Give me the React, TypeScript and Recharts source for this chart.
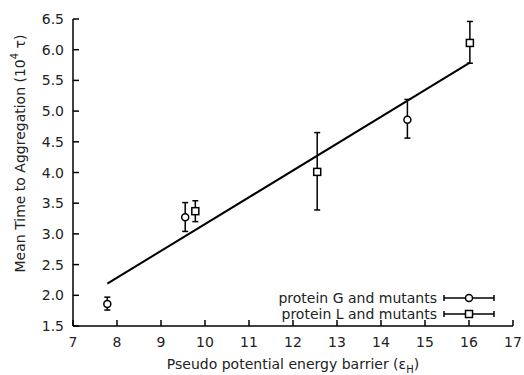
import React from 'react';
import { ComposedChart, Scatter, XAxis, YAxis, ErrorBar, ReferenceLine, Legend } from 'recharts';

const gX = [7.78, 9.55, 14.6];
const gY = [1.86, 3.27, 4.86];
const gLo = [1.76, 3.04, 4.56];
const gHi = [1.97, 3.51, 5.19];

const lX = [9.78, 12.55, 16.02];
const lY = [3.37, 4.01, 6.11];
const lLo = [3.2, 3.39, 5.78];
const lHi = [3.54, 4.65, 6.46];

const fitX = [7.78, 16.02];
const fitY = [2.19, 5.79];

const xTicks = [7, 8, 9, 10, 11, 12, 13, 14, 15, 16, 17];
const yTicks = [1.5, 2.0, 2.5, 3.0, 3.5, 4.0, 4.5, 5.0, 5.5, 6.0, 6.5];

const seriesNames = ['protein G and mutants', 'protein L and mutants'];

const FONT = '"DejaVu Sans", "Liberation Sans", Arial, sans-serif';

const gData = gX.map((x, i) => ({ x, y: gY[i], err: [gY[i] - gLo[i], gHi[i] - gY[i]] }));
const lData = lX.map((x, i) => ({ x, y: lY[i], err: [lY[i] - lLo[i], lHi[i] - lY[i]] }));

const CircleShape = (p: any) => (
  <circle cx={p.cx} cy={p.cy} r={3.5} fill="#fff" stroke="#000" strokeWidth={1.5} />
);
const SquareShape = (p: any) => (
  <rect x={p.cx - 3.5} y={p.cy - 3.5} width={7} height={7} fill="#fff" stroke="#000" strokeWidth={1.5} />
);

const BottomTick = (p: any) => (
  <g>
    <line x1={p.x} y1={p.y} x2={p.x} y2={p.y - 6} stroke="#000" strokeWidth={1.5} />
    <text x={p.x} y={p.y + 21} textAnchor="middle" fontFamily={FONT} fontSize={14} fill="#222">
      {p.payload.value}
    </text>
  </g>
);
const TopTick = (p: any) => (
  <line x1={p.x} y1={p.y} x2={p.x} y2={p.y + 6} stroke="#000" strokeWidth={1.5} />
);
const LeftTick = (p: any) => (
  <g>
    <line x1={p.x} y1={p.y} x2={p.x + 6} y2={p.y} stroke="#000" strokeWidth={1.5} />
    <text x={p.x - 9} y={p.y + 5} textAnchor="end" fontFamily={FONT} fontSize={14} fill="#222">
      {Number(p.payload.value).toFixed(1)}
    </text>
  </g>
);
const RightTick = (p: any) => (
  <line x1={p.x} y1={p.y} x2={p.x - 6} y2={p.y} stroke="#000" strokeWidth={1.5} />
);

const YLabel = (props: any) => {
  const vb = props.viewBox || {};
  const cx = 20;
  const cy = vb.y + vb.height / 2 - 19;
  return (
    <text
      x={cx}
      y={cy}
      transform={`rotate(-90 ${cx} ${cy})`}
      textAnchor="middle"
      dominantBaseline="central"
      fontFamily={FONT}
      fontSize={14}
      fill="#222"
    >
      Mean Time to Aggregation (10
      <tspan dy={-6} fontSize={10}>4</tspan>
      <tspan dy={6}> τ)</tspan>
    </text>
  );
};

const XLabel = (props: any) => {
  const vb = props.viewBox || {};
  const cx = vb.x + vb.width / 2;
  return (
    <text x={cx} y={369} textAnchor="middle" fontFamily={FONT} fontSize={14} fill="#222">
      Pseudo potential energy barrier (ε
      <tspan dy={4} fontSize={10}>H</tspan>
      <tspan dy={-4}>)</tspan>
    </text>
  );
};

const LegendContent = () => {
  const rows = [
    { name: seriesNames[0], y: 10, shape: 'circle' },
    { name: seriesNames[1], y: 26, shape: 'square' },
  ];
  return (
    <svg width={524} height={40} style={{ display: 'block' }}>
      {rows.map((r) => (
        <g key={r.name}>
          <text x={437} y={r.y + 5} textAnchor="end" fontFamily={FONT} fontSize={14} fill="#222">
            {r.name}
          </text>
          <line x1={444} y1={r.y} x2={494} y2={r.y} stroke="#000" strokeWidth={1.5} />
          <line x1={444} y1={r.y - 3} x2={444} y2={r.y + 3} stroke="#000" strokeWidth={1.5} />
          <line x1={494} y1={r.y - 3} x2={494} y2={r.y + 3} stroke="#000" strokeWidth={1.5} />
          {r.shape === 'circle' ? (
            <circle cx={469} cy={r.y} r={3.5} fill="#fff" stroke="#000" strokeWidth={1.5} />
          ) : (
            <rect x={465.5} y={r.y - 3.5} width={7} height={7} fill="#fff" stroke="#000" strokeWidth={1.5} />
          )}
        </g>
      ))}
    </svg>
  );
};

export default function App() {
  return (
    <div style={{ position: 'absolute', left: 0, top: 0, width: 524, height: 375, background: '#fff' }}>
      <ComposedChart width={524} height={375} margin={{ top: 19, right: 11, bottom: 0, left: 0 }}>
        <XAxis
          xAxisId={0}
          type="number"
          dataKey="x"
          domain={[7, 17]}
          ticks={xTicks}
          interval={0}
          height={49}
          tickSize={0}
          tickMargin={0}
          tick={<BottomTick />}
          axisLine={{ stroke: '#000', strokeWidth: 1.5 }}
          label={<XLabel />}
          allowDataOverflow
        />
        <XAxis
          xAxisId="top"
          orientation="top"
          type="number"
          domain={[7, 17]}
          ticks={xTicks}
          interval={0}
          height={0}
          tickSize={0}
          tickMargin={0}
          tick={<TopTick />}
          axisLine={{ stroke: '#000', strokeWidth: 1.5 }}
          allowDataOverflow
        />
        <YAxis
          yAxisId={0}
          type="number"
          dataKey="y"
          domain={[1.5, 6.5]}
          ticks={yTicks}
          interval={0}
          width={73}
          tickSize={0}
          tickMargin={0}
          tick={<LeftTick />}
          axisLine={{ stroke: '#000', strokeWidth: 1.5 }}
          label={<YLabel />}
          allowDataOverflow
        />
        <YAxis
          yAxisId="right"
          orientation="right"
          type="number"
          domain={[1.5, 6.5]}
          ticks={yTicks}
          interval={0}
          width={0}
          tickSize={0}
          tickMargin={0}
          tick={<RightTick />}
          axisLine={{ stroke: '#000', strokeWidth: 1.5 }}
          allowDataOverflow
        />
        <ReferenceLine
          segment={[
            { x: fitX[0], y: fitY[0] },
            { x: fitX[1], y: fitY[1] },
          ]}
          stroke="#000"
          strokeWidth={2}
          ifOverflow="visible"
        />
        <Scatter name={seriesNames[0]} data={gData} shape={<CircleShape />} isAnimationActive={false}>
          <ErrorBar dataKey="err" direction="y" width={3} stroke="#000" strokeWidth={1.5} />
        </Scatter>
        <Scatter name={seriesNames[1]} data={lData} shape={<SquareShape />} isAnimationActive={false}>
          <ErrorBar dataKey="err" direction="y" width={3} stroke="#000" strokeWidth={1.5} />
        </Scatter>
        <Legend
          layout="horizontal"
          verticalAlign="middle"
          align="center"
          content={<LegendContent />}
          wrapperStyle={{ position: 'absolute', left: 0, top: 288, width: 524, height: 40 }}
        />
      </ComposedChart>
    </div>
  );
}
